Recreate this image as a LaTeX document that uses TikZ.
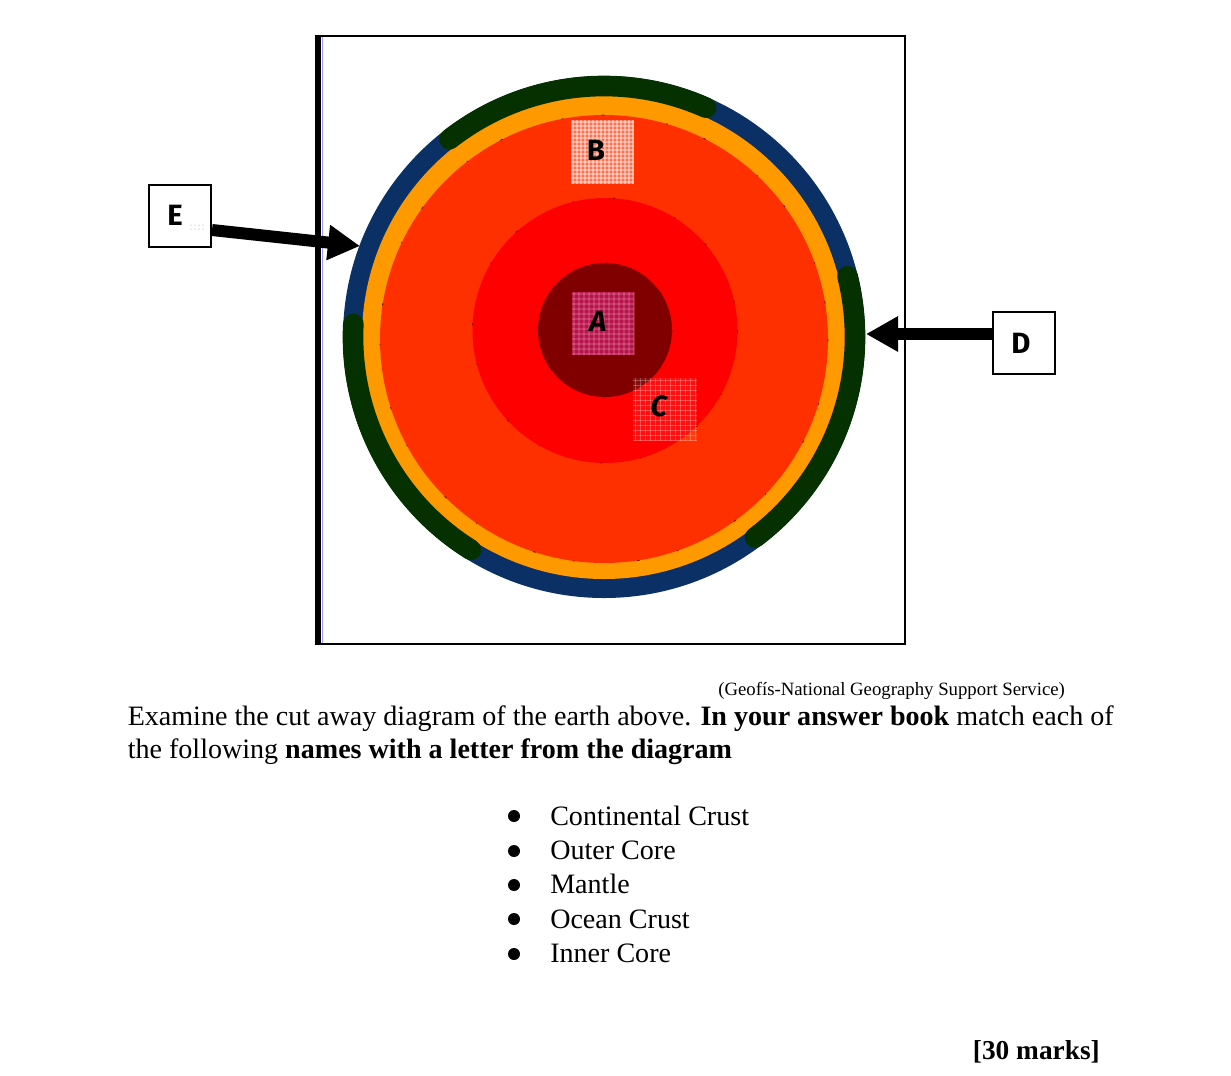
\documentclass[tikz,border=0pt]{standalone}
\usepackage{fontspec}
\setmainfont{Liberation Serif}
\newfontfamily\letterfont{Fira Sans}
\usetikzlibrary{arrows.meta}
\definecolor{oceanblue}{HTML}{0B3066}
\definecolor{landgreen}{HTML}{053000}
\definecolor{mantleor}{HTML}{FF9900}
\definecolor{mantlered}{HTML}{FF3000}
\definecolor{outercore}{HTML}{FF0000}
\definecolor{innercore}{HTML}{800000}
\definecolor{specks}{HTML}{7A0A00}
\tikzset{
 x=0.75pt,y=-0.75pt,
 txt/.style={anchor=base west,inner sep=0pt,font=\fontsize{21.05pt}{24pt}\selectfont},
 src/.style={anchor=base west,inner sep=0pt,font=\fontsize{14.08pt}{17pt}\selectfont},
 letter/.style={inner sep=0pt,font=\letterfont\bfseries\fontsize{22pt}{24pt}\selectfont},
 labelbox/.style={draw=black,line width=1.5pt,fill=white,minimum size=47pt,inner sep=0pt},
 bigarrow/.style={draw=black,line width=9pt,-{Triangle[length=24pt,width=25pt]}},
 crust/.style={line width=15.5pt,line cap=round,draw=landgreen},
 speck/.style={draw=specks,line width=0.6pt,dash pattern=on 2pt off 47pt on 1pt off 29pt},
 bul/.style={circle,fill=black,minimum size=9pt,inner sep=0pt},
}
\begin{document}
\begin{tikzpicture}
\useasboundingbox[fill=white] (0,0) rectangle (1231,1075);
% frame
\draw[black,line width=1.5pt] (316,36) rectangle (905,644);
\draw[black,line width=4pt] (318.5,36) -- (318.5,644);
\draw[blue!40!white,line width=0.6pt] (322,37) -- (322,643);
% earth
\fill[oceanblue] (604,337) circle[radius=261];
\fill[mantleor] (604,337) circle[radius=242];
\fill[mantlered] (604,339) circle[radius=224];
\draw[speck] (604,339) circle[radius=224];
\fill[outercore] (605,330.5) circle[radius=132.5];
\draw[speck] (605,330.5) circle[radius=132.5];
\fill[innercore] (605,330) circle[radius=67];
\draw[speck] (605,330) circle[radius=67];
% continental crust
\draw[crust] (604,337) ++(-128:251) arc[start angle=-128,end angle=-66,radius=251];
\draw[crust] (604,337) ++(-14:251) arc[start angle=-14,end angle=53,radius=251];
\draw[crust] (604,337) ++(-177:251) arc[start angle=-177,end angle=-238,radius=251];
% hatched letter squares
\fill[white,opacity=.30] (571,120) rectangle (634,184);
\foreach \k in {0,4,...,60}{
 \draw[white,opacity=.40,line width=.9pt] (573+\k,120) -- (573+\k,184);
 \draw[white,opacity=.40,line width=.9pt] (571,122+\k) -- (634,122+\k);
}
\fill[magenta!85!white,opacity=.50] (572,292) rectangle (634,355);
\foreach \k in {0,5,...,60}{
 \draw[pink,opacity=.20,line width=.8pt] (574+\k,292) -- (574+\k,355);
 \draw[pink,opacity=.20,line width=.8pt] (572,294+\k) -- (634,294+\k);
}
\fill[white,opacity=.06] (633,378) rectangle (697,441);
\foreach \k in {0,5,...,60}{
 \draw[white,opacity=.25,line width=.7pt] (635+\k,378) -- (635+\k,441);
 \draw[white,opacity=.25,line width=.7pt] (633,380+\k) -- (697,380+\k);
}
% layer letters
\node[letter] (A) at (598,321) {\itshape A};
\node[letter] (B) at (596,150) {B};
\node[letter] (C) at (659,406) {\itshape C};
% label boxes
\node[labelbox] (E) at (180,216) {};
\node[letter] (Eletter) at (175,215) {E};
\node[labelbox] (D) at (1024,343) {};
\node[letter] (Dletter) at (1021,343) {D};
\foreach \a in {191,195,199,203}\foreach \b in {225,229}
 \fill[black!45] (\a,\b) circle[radius=.5];
% arrows
\coordinate (Etip) at (360,246);
\coordinate (Dtip) at (866,334);
\draw[bigarrow] (212,230) -- (Etip);
\draw[bigarrow] (D.west |- Dtip) -- (Dtip);
% text
\node[src] (source) at (718,695) {(Geofís-National Geography Support Service)};
\node[txt] (line1) at (127.5,725.7) {Examine the cut away diagram of the earth above. \textbf{In your answer book} match each of};
\node[txt] (line2) at (127.5,758.7) {the following \textbf{names with a letter from the diagram}};
\node[bul] (b1) at (514,816) {};
\node[bul] (b2) at (514,851) {};
\node[bul] (b3) at (514,885) {};
\node[bul] (b4) at (514,919) {};
\node[bul] (b5) at (514,954) {};
\node[txt] (t1) at (550,825) {Continental Crust};
\node[txt] (t2) at (550,859) {Outer Core};
\node[txt] (t3) at (550,893) {Mantle};
\node[txt] (t4) at (550,928) {Ocean Crust};
\node[txt] (t5) at (550,962) {Inner Core};
\node[txt,anchor=base east,font=\fontsize{20.5pt}{24pt}\selectfont] (marks) at (1100,1059.7) {\textbf{[30 marks]}};
\end{tikzpicture}
\end{document}
